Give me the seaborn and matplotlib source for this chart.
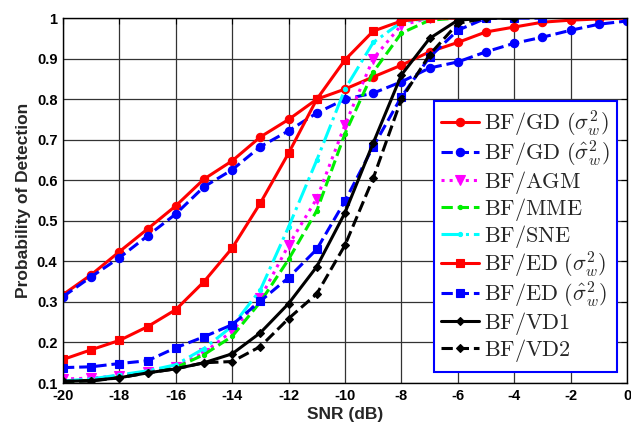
import numpy as np
import pandas as pd
import matplotlib
matplotlib.use("Agg")
import matplotlib.pyplot as plt
import seaborn as sns

snr = list(range(-20, 1))
nan = np.nan

gd_true = [0.318, 0.367, 0.424, 0.480, 0.537, 0.603, 0.648, 0.707, 0.750, 0.800, 0.825,
           0.855, 0.884, 0.917, 0.940, 0.966, 0.978, 0.990, 0.995, 0.998, 1.0]
gd_est = [0.313, 0.362, 0.409, 0.463, 0.517, 0.584, 0.626, 0.683, 0.722, 0.766, 0.800,
          0.815, 0.843, 0.877, 0.892, 0.917, 0.938, 0.953, 0.970, 0.985, 0.993]
agm = [0.110, 0.112, 0.118, 0.128, 0.140, 0.175, 0.228, 0.310, 0.440, 0.555, 0.737,
       0.900, 0.983, 1.0, 1.0, nan, nan, nan, nan, nan, nan]
mme = [0.103, 0.107, 0.115, 0.125, 0.138, 0.170, 0.215, 0.300, 0.405, 0.525, 0.715,
       0.867, 0.963, 0.995, 1.0, nan, nan, nan, nan, nan, nan]
sne = [0.105, 0.110, 0.120, 0.130, 0.145, 0.185, 0.240, 0.330, 0.485, 0.650, 0.825,
       0.940, 0.990, 1.0, 1.0, nan, nan, nan, nan, nan, nan]
ed_true = [0.158, 0.182, 0.205, 0.239, 0.281, 0.350, 0.433, 0.544, 0.667, 0.800, 0.897,
           0.968, 0.993, 1.0, 1.0, nan, nan, nan, nan, nan, nan]
ed_est = [0.138, 0.140, 0.148, 0.155, 0.187, 0.214, 0.244, 0.302, 0.360, 0.430, 0.549,
          0.683, 0.806, 0.904, 0.970, 1.0, 1.0, 1.0, nan, nan, nan]
vd1 = [0.104, 0.106, 0.113, 0.125, 0.135, 0.150, 0.172, 0.224, 0.296, 0.387, 0.520,
       0.692, 0.860, 0.950, 0.995, 1.0, 1.0, nan, nan, nan, nan]
vd2 = [0.104, 0.105, 0.113, 0.125, 0.135, 0.150, 0.153, 0.190, 0.259, 0.320, 0.440,
       0.605, 0.800, 0.910, 0.987, 1.0, 1.0, nan, nan, nan, nan]

labels = [r"$\mathrm{BF/GD}\ (\sigma_w^2)$", r"$\mathrm{BF/GD}\ (\hat{\sigma}_w^2)$",
          r"$\mathrm{BF/AGM}$", r"$\mathrm{BF/MME}$", r"$\mathrm{BF/SNE}$",
          r"$\mathrm{BF/ED}\ (\sigma_w^2)$", r"$\mathrm{BF/ED}\ (\hat{\sigma}_w^2)$",
          r"$\mathrm{BF/VD1}$", r"$\mathrm{BF/VD2}$"]
series = [gd_true, gd_est, agm, mme, sne, ed_true, ed_est, vd1, vd2]
styles = [
    dict(color="#ff0000", ls="-", marker="o", ms=6),
    dict(color="#0000ff", ls="--", marker="o", ms=6),
    dict(color="#ff00ff", ls=":", marker="v", ms=7),
    dict(color="#00ee00", ls="--", marker=".", ms=6),
    dict(color="#00ffff", ls="-.", marker=".", ms=6),
    dict(color="#ff0000", ls="-", marker="s", ms=6),
    dict(color="#0000ff", ls="--", marker="s", ms=6),
    dict(color="#000000", ls="-", marker="D", ms=4.5),
    dict(color="#000000", ls="--", marker="D", ms=4.5),
]

sns.set_theme(style="white")
plt.rcParams["font.family"] = ["Liberation Sans", "DejaVu Sans"]
plt.rcParams["mathtext.fontset"] = "cm"

fig, ax = plt.subplots(figsize=(6.31, 4.32), dpi=100)
fig.subplots_adjust(left=0.0998, right=0.9937, top=0.958, bottom=0.1134)

for y, lab, st in zip(series, labels, styles):
    df = pd.DataFrame({"snr": snr, "pd": y}).dropna()
    sns.lineplot(data=df, x="snr", y="pd", ax=ax, color=st["color"], linestyle=st["ls"],
                 marker=st["marker"], markersize=st["ms"], markeredgewidth=0.8,
                 markeredgecolor=st["color"], linewidth=2.2, label=lab, sort=False)

ax.set_xlim(-20, 0)
ax.set_ylim(0.1, 1.0)
ax.set_xticks(range(-20, 1, 2))
ax.set_xticklabels([str(v) for v in range(-20, 1, 2)])
yt = [round(0.1 * i, 1) for i in range(1, 11)]
ax.set_yticks(yt)
ax.set_yticklabels([("1" if v == 1.0 else f"{v:.1f}") for v in yt])
ax.grid(True, color="0.2", linewidth=0.9)
ax.tick_params(direction="in", top=True, right=True, length=4, width=0.8,
               labelsize=10.5, pad=4, colors="black")
for lbl in ax.get_xticklabels() + ax.get_yticklabels():
    lbl.set_fontweight("bold")
for sp in ax.spines.values():
    sp.set_color("black")
    sp.set_linewidth(1.0)
ax.set_xlabel("SNR (dB)", fontsize=12.5, fontweight="bold", labelpad=3)
ax.set_ylabel("Probability of Detection", fontsize=12.5, fontweight="bold", labelpad=4)

leg = ax.legend(loc="upper right", bbox_to_anchor=(0.982, 0.773), borderaxespad=0,
                fontsize=16, handlelength=1.7, handletextpad=0.2, labelspacing=0.0,
                borderpad=0.35, fancybox=False, framealpha=1)
leg.get_frame().set_edgecolor("#0000ff")
leg.get_frame().set_linewidth(1.5)

fig.savefig("out.png", dpi=100)
